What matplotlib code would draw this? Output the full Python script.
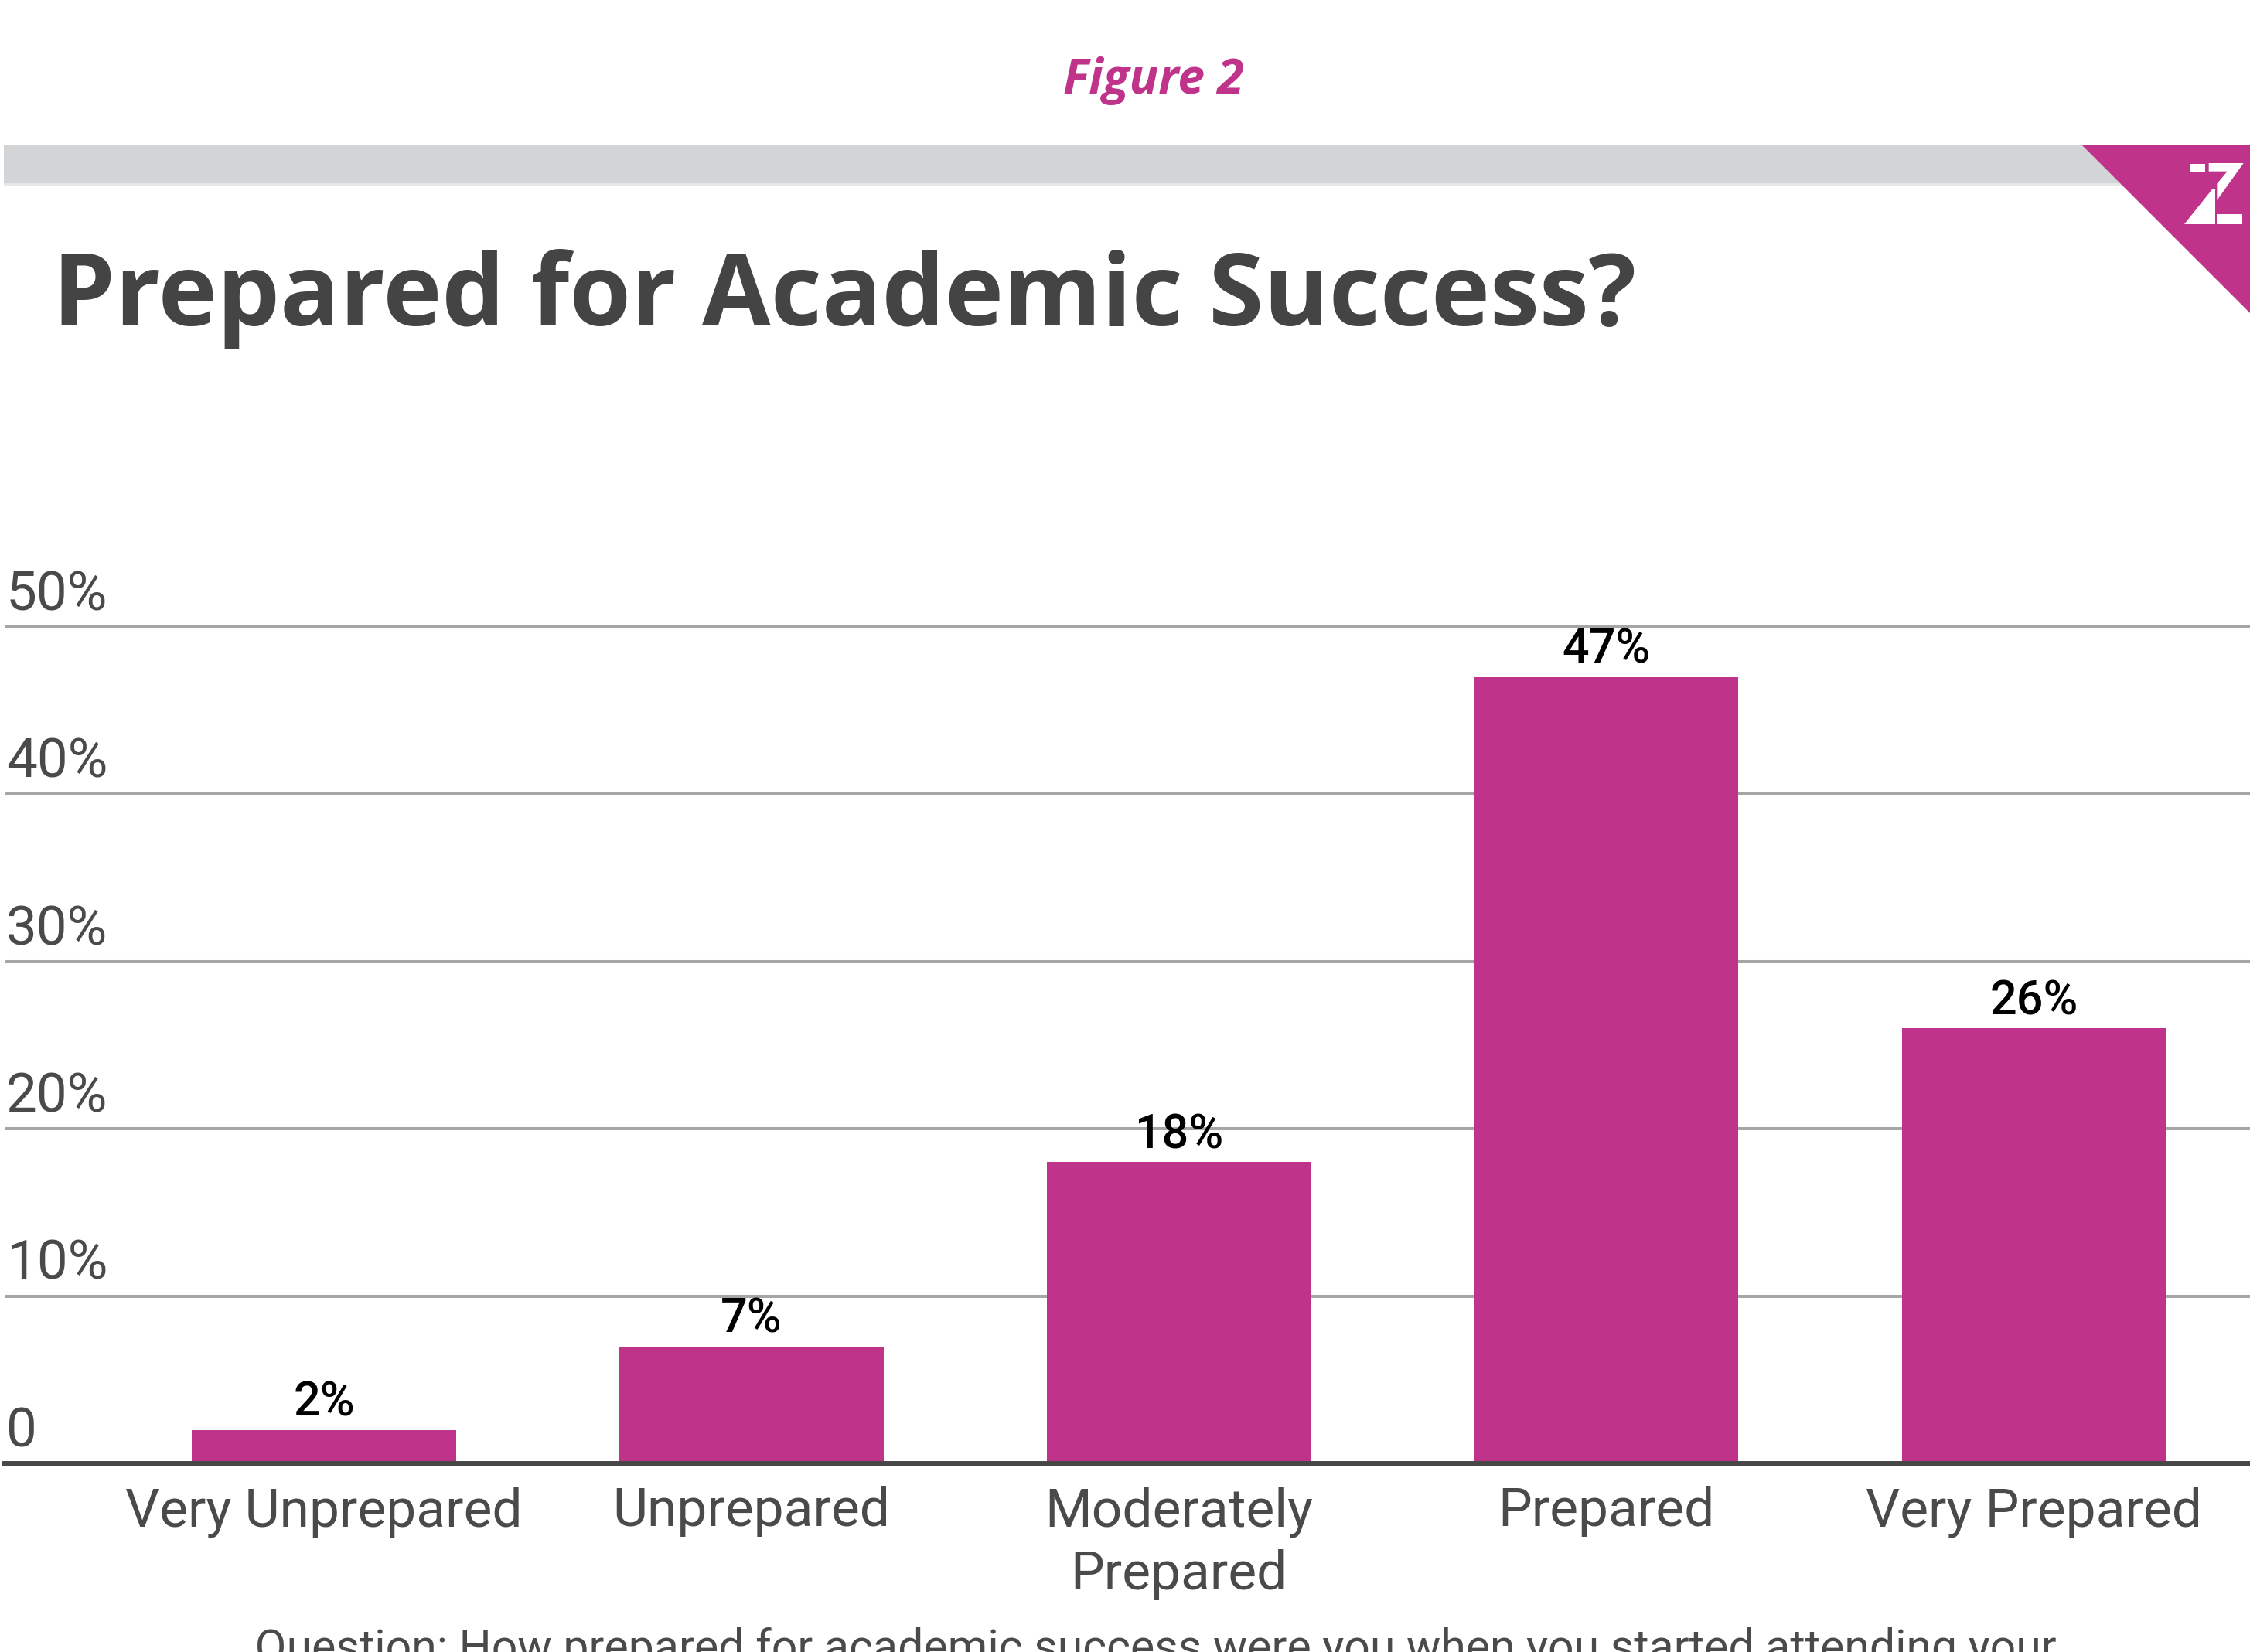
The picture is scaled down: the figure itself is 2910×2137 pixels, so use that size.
import matplotlib
matplotlib.use("Agg")
import matplotlib.pyplot as plt
from matplotlib.patches import Polygon, Rectangle
from matplotlib.transforms import blended_transform_factory

plt.rcParams['font.family'] = ['Roboto', 'DejaVu Sans']

categories = ['Very Unprepared', 'Unprepared', 'Moderately\nPrepared', 'Prepared', 'Very Prepared']
values = [2, 7, 18, 47, 26]
ytick_values = [0, 10, 20, 30, 40, 50]
ytick_labels = ['0', '10%', '20%', '30%', '40%', '50%']
fig_label = 'Figure 2'
title = 'Prepared for Academic Success?'
caption = 'Question: How prepared for academic success were you when you started attending your'

MAGENTA = '#BF338A'
DARK = '#474747'
W, H = 2910, 2137


def fx(px):
    return px / W


def fy(py):
    return 1 - py / H


fig = plt.figure(figsize=(W / 100, H / 100), dpi=100)
fig.patch.set_facecolor('white')

# header band, corner triangle and logo, drawn in pixel space
deco = fig.add_axes([0, 0, 1, 1])
deco.set_xlim(0, W)
deco.set_ylim(H, 0)
deco.axis('off')
deco.add_patch(Rectangle((5, 187), 2800, 50, color='#D3D4D5', lw=0))
deco.add_patch(Rectangle((5, 237), 2800, 4, color='#E6E7E8', lw=0))
deco.add_patch(Polygon([(2692, 187), (2910, 187), (2910, 405)], closed=True, color=MAGENTA, lw=0))


def logo_pts(pts):
    return [(2800 + px / 3, 195 + py / 3) for px, py in pts]


logo_parts = [
    [(95, 50), (155, 50), (155, 80), (95, 80)],
    [(170, 48), (305, 48), (202, 192), (202, 128), (242, 80), (170, 80)],
    [(182, 150), (195, 150), (195, 285), (75, 285)],
    [(202, 245), (300, 245), (300, 285), (202, 285)],
]
for part in logo_parts:
    deco.add_patch(Polygon(logo_pts(part), closed=True, color='white', lw=0))

fig.text(fx(1492), fy(121), fig_label, ha='center', va='baseline', fontsize=45,
         color=MAGENTA, family=['Open Sans', 'DejaVu Sans'], fontweight='bold', fontstyle='italic')
fig.text(fx(68), fy(421), title, ha='left', va='baseline', fontsize=92.7,
         color='#444444', family=['Open Sans', 'DejaVu Sans'], fontweight='bold')

# main bar chart
px_per_unit = 21.64
ymax = 52
ax = fig.add_axes([fx(6), fy(1893), (2910 - 6) / W, ymax * px_per_unit / H])
ax.patch.set_alpha(0)
x = list(range(len(categories)))
ax.bar(x, values, width=0.617, color=MAGENTA, zorder=2)
ax.set_xlim(-0.747, 4.505)
ax.set_ylim(0, ymax)

ax.set_yticks(ytick_values[1:])
ax.yaxis.grid(True, color='#A6A6A6', lw=2.9)
ax.set_axisbelow(True)
ax.tick_params(axis='y', length=0, labelleft=False)

for side in ['top', 'left', 'right']:
    ax.spines[side].set_visible(False)
ax.spines['bottom'].set_color(DARK)
ax.spines['bottom'].set_linewidth(5)
ax.spines['bottom'].set_zorder(3)

ax.set_xticks(x, categories)
ax.tick_params(axis='x', length=0, pad=21, labelsize=50, labelcolor='#4a4a4a')
for lab in ax.get_xticklabels():
    lab.set_linespacing(1.3)

trans = blended_transform_factory(fig.transFigure, ax.transData)
for v, lab in zip(ytick_values, ytick_labels):
    ax.text(fx(8), v + 1.0, lab, transform=trans, ha='left', va='baseline',
            fontsize=51, color='#4a4a4a')

for xi, v in zip(x, values):
    ax.text(xi, v + 0.83, f'{v}%', ha='center', va='baseline', fontsize=44,
            color='black', fontweight='medium')

fig.text(fx(1495), fy(2150), caption, ha='center', va='baseline', fontsize=42.5, color='#4a4a4a')

fig.savefig('out.png', dpi=100)
